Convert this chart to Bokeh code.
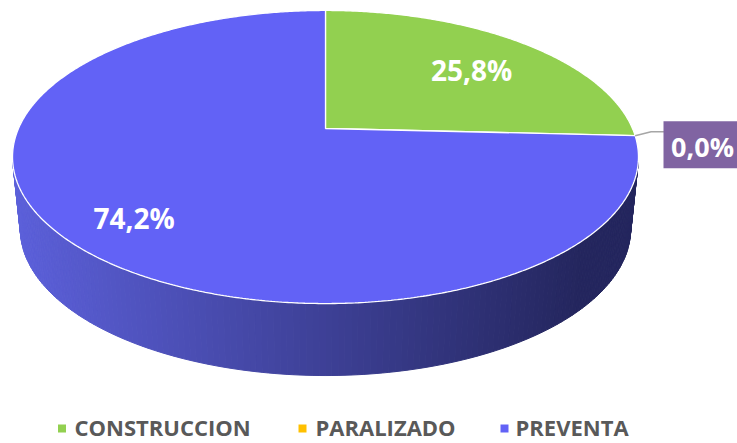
import numpy as np
from bokeh.plotting import figure
from bokeh.models import Range1d
from bokeh.core.properties import value
from bokeh.embed import file_html
from bokeh.resources import INLINE

# ---- data ----
categories = ["CONSTRUCCION", "PARALIZADO", "PREVENTA"]
values = [25.8, 0.0, 74.2]
colors = ["#92D050", "#FFC000", "#6262F6"]
labels = ["25,8%", "0,0%", "74,2%"]

# ---- geometry (perspective-projected disc) ----
CX, CY, A, S, E = 325.0, 128.0, 307.0, 141.0, 0.1945
DEPTH, KSIDE = 72.0, 0.975
LABEL_ANCHOR_Y, LABEL_K = 150.0, 0.745


def proj(theta_deg, r=1.0):
    t = np.radians(theta_deg)
    c, s = np.cos(t), np.sin(t)
    d = 1 + E * r * c
    return CX + A * r * s / d, CY - S * r * c / d


W, H = 737, 443
p = figure(width=W, height=H, x_range=Range1d(0, W), y_range=Range1d(H, 0),
           output_backend="svg", toolbar_location=None, min_border=0,
           x_axis_location=None, y_axis_location=None)
p.grid.visible = False
p.outline_line_color = None
p.background_fill_color = "white"
p.border_fill_color = "white"

total = sum(values)
starts, ends = [], []
acc = 0.0
for v in values:
    starts.append(acc / total * 360)
    acc += v
    ends.append(acc / total * 360)

# ---- side wall (front half) with gradient ----
thR = np.degrees(np.arccos(-E))
thL = 360 - thR
n = 160
ths = np.linspace(thR, thL, n + 1)
left_c = np.array([92, 96, 218])
right_c = np.array([36, 38, 94])
xs_side, ys_side, cols_side = [], [], []
xmin, xmax = CX - A / np.sqrt(1 - E * E), CX + A / np.sqrt(1 - E * E)
for i in range(n):
    t0, t1 = ths[i], ths[i + 1]
    x0, y0 = proj(t0)
    x1, y1 = proj(t1)
    bx0, by0 = CX + (x0 - CX) * KSIDE, y0 + DEPTH
    bx1, by1 = CX + (x1 - CX) * KSIDE, y1 + DEPTH
    xs_side.append([x0, x1, bx1, bx0])
    ys_side.append([y0, y1, by1, by0])
    tt = ((x0 + x1) / 2 - xmin) / (xmax - xmin)
    tt = min(max(tt * 1.1, 0), 1)
    c = left_c * (1 - tt) + right_c * tt
    cols_side.append("#%02x%02x%02x" % tuple(int(round(v)) for v in c))
p.patches(xs_side, ys_side, fill_color=cols_side, line_color=cols_side, line_width=1)

# ---- top surface wedges ----
wx, wy, wc = [], [], []
for st, en, col, v in zip(starts, ends, colors, values):
    if v <= 0:
        continue
    th = np.linspace(st, en, max(int((en - st) * 2), 4))
    rx, ry = proj(th)
    wx.append([CX] + list(rx))
    wy.append([CY] + list(ry))
    wc.append(col)
p.patches(wx, wy, fill_color=wc, line_color="white", line_width=1.3)

# ---- data labels ----
lx, ly, lt = [], [], []
for st, en, v, lab in zip(starts, ends, values, labels):
    if v <= 0:
        continue
    rx, ry = proj((st + en) / 2)
    lx.append(CX + LABEL_K * (rx - CX))
    ly.append(LABEL_ANCHOR_Y + LABEL_K * (ry - LABEL_ANCHOR_Y))
    lt.append(lab)
p.text(lx, ly, text=lt, text_align="center", text_baseline="middle",
       text_font=value("Open Sans"), text_font_style="bold",
       text_font_size="28px", text_color="white")

# zero-value slice: callout label
for st, v, lab in zip(starts, values, labels):
    if v > 0:
        continue
    rx, ry = proj(st)
    p.line([rx, rx + 16, 664], [ry, ry - 4, ry - 4], line_color="#A6A6A6", line_width=1.5)
    p.rect(x=[700], y=[ry + 9], width=74, height=47, fill_color="#8064A2", line_color=None)
    p.text([702], [ry + 11], text=[lab], text_align="center", text_baseline="middle",
           text_font=value("Open Sans"), text_font_style="bold",
           text_font_size="27px", text_color="white")

# ---- legend ----
leg_sq_x = [61.5, 302, 504]
leg_tx_x = [74, 315, 515]
leg_y = 426
p.scatter(leg_sq_x, [leg_y + 2] * 3, marker="square", size=8, fill_color=colors, line_color=None)
p.text(leg_tx_x, [leg_y] * 3, text=categories, text_align="left", text_baseline="middle",
       text_font=value("Open Sans"), text_font_style="bold",
       text_font_size="22px", text_color="#595959")

open("out.html", "w").write(file_html(p, INLINE))
